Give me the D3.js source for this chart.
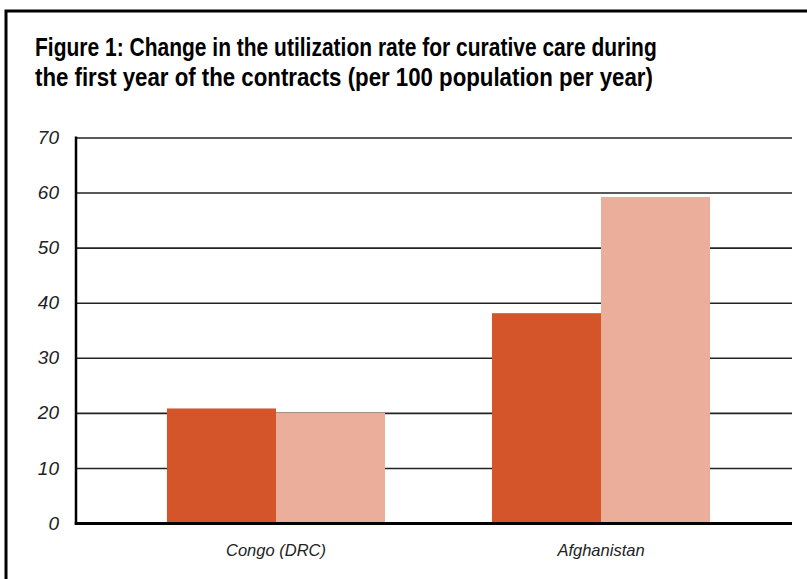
<!DOCTYPE html>
<html>
<head>
<meta charset="utf-8">
<script src="https://cdn.jsdelivr.net/npm/d3@7"></script>
<style>
  html, body { margin: 0; padding: 0; background: #fff; }
  svg { display: block; }
</style>
</head>
<body>
<svg id="chart" width="807" height="579"></svg>
<script>
// ---- data ----
const categories = ["Congo (DRC)", "Afghanistan"];
const seriesNames = ["series1", "series2"];
const series1Values = [20.8, 38.1];
const series2Values = [20.0, 59.2];
const yTicks = [0, 10, 20, 30, 40, 50, 60, 70];
const titleLines = [
  "Figure 1: Change in the utilization rate for curative care during",
  "the first year of the contracts (per 100 population per year)"
];
const colors = ["#D5552B", "#EAAE9B"];

(function () {
const rows = categories.map((c, i) => ({
  category: c,
  values: [
    { key: seriesNames[0], value: series1Values[i] },
    { key: seriesNames[1], value: series2Values[i] }
  ]
}));

const svg = d3.select("#chart");

// frame
svg.append("rect")
  .attr("x", 6).attr("y", 11)
  .attr("width", 900).attr("height", 900)
  .attr("fill", "none").attr("stroke", "#000").attr("stroke-width", 3);

// title (condensed look: horizontally scaled bold sans)
const titleFont = "'Liberation Sans', Arial, sans-serif";
const titleWidths = [622, 618];
const titleBaselines = [56, 86];
titleLines.forEach((t, i) => {
  const g = svg.append("g");
  const txt = g.append("text")
    .attr("x", 0).attr("y", 0)
    .attr("font-family", titleFont)
    .attr("font-weight", "bold")
    .attr("font-size", 25)
    .attr("fill", "#000")
    .text(t);
  const w = txt.node().getComputedTextLength();
  const sx = titleWidths[i] / w;
  g.attr("transform", `translate(35,${titleBaselines[i]}) scale(${sx},1)`);
});

// scales
const pLeft = 76, pRight = 792, pBottom = 523, pTop = 137.5;
const x0 = d3.scaleBand().domain(categories).range([pLeft, pRight])
  .paddingInner(0.329).paddingOuter(0.266).align(0.526);
const x1 = d3.scaleBand().domain(seriesNames).range([0, x0.bandwidth()]).padding(0);
const y = d3.scaleLinear().domain([0, 70]).range([pBottom, pTop]);

// gridlines
const grid = svg.append("g").attr("transform", `translate(${pLeft},0)`)
  .call(d3.axisLeft(y).tickValues(yTicks.filter(v => v > 0)).tickSize(-(pRight - pLeft)).tickFormat(""));
grid.select(".domain").remove();
grid.selectAll("line").attr("stroke", "#222").attr("stroke-width", 1.6);

// bars
const groups = svg.append("g").selectAll("g").data(rows).join("g")
  .attr("transform", d => `translate(${x0(d.category)},0)`);
groups.selectAll("rect").data(d => d.values).join("rect")
  .attr("x", d => x1(d.key))
  .attr("width", x1.bandwidth())
  .attr("y", d => y(d.value))
  .attr("height", d => y(0) - y(d.value))
  .attr("fill", (d, i) => colors[i]);

// y axis labels
const labelFont = "'Liberation Sans', Arial, sans-serif";
const yAxis = svg.append("g").attr("transform", `translate(${pLeft},0)`)
  .call(d3.axisLeft(y).tickValues(yTicks).tickSize(0).tickPadding(17).tickFormat(d3.format("d")));
yAxis.select(".domain").remove();
yAxis.selectAll("text")
  .attr("font-family", labelFont).attr("font-style", "italic")
  .attr("font-size", 19).attr("fill", "#222");

// axis lines
svg.append("line")
  .attr("x1", pLeft).attr("x2", pLeft).attr("y1", pTop - 1).attr("y2", pBottom + 1.5)
  .attr("stroke", "#000").attr("stroke-width", 2.5);
svg.append("line")
  .attr("x1", pLeft - 1.25).attr("x2", pRight).attr("y1", pBottom + 0.5).attr("y2", pBottom + 0.5)
  .attr("stroke", "#000").attr("stroke-width", 3);

// x axis labels
const xAxis = svg.append("g").attr("transform", `translate(0,${pBottom})`)
  .call(d3.axisBottom(x0).tickSize(0).tickPadding(21));
xAxis.select(".domain").remove();
xAxis.selectAll("text")
  .attr("font-family", labelFont).attr("font-style", "italic")
  .attr("font-size", 16.5).attr("fill", "#222");
})();
</script>
</body>
</html>
